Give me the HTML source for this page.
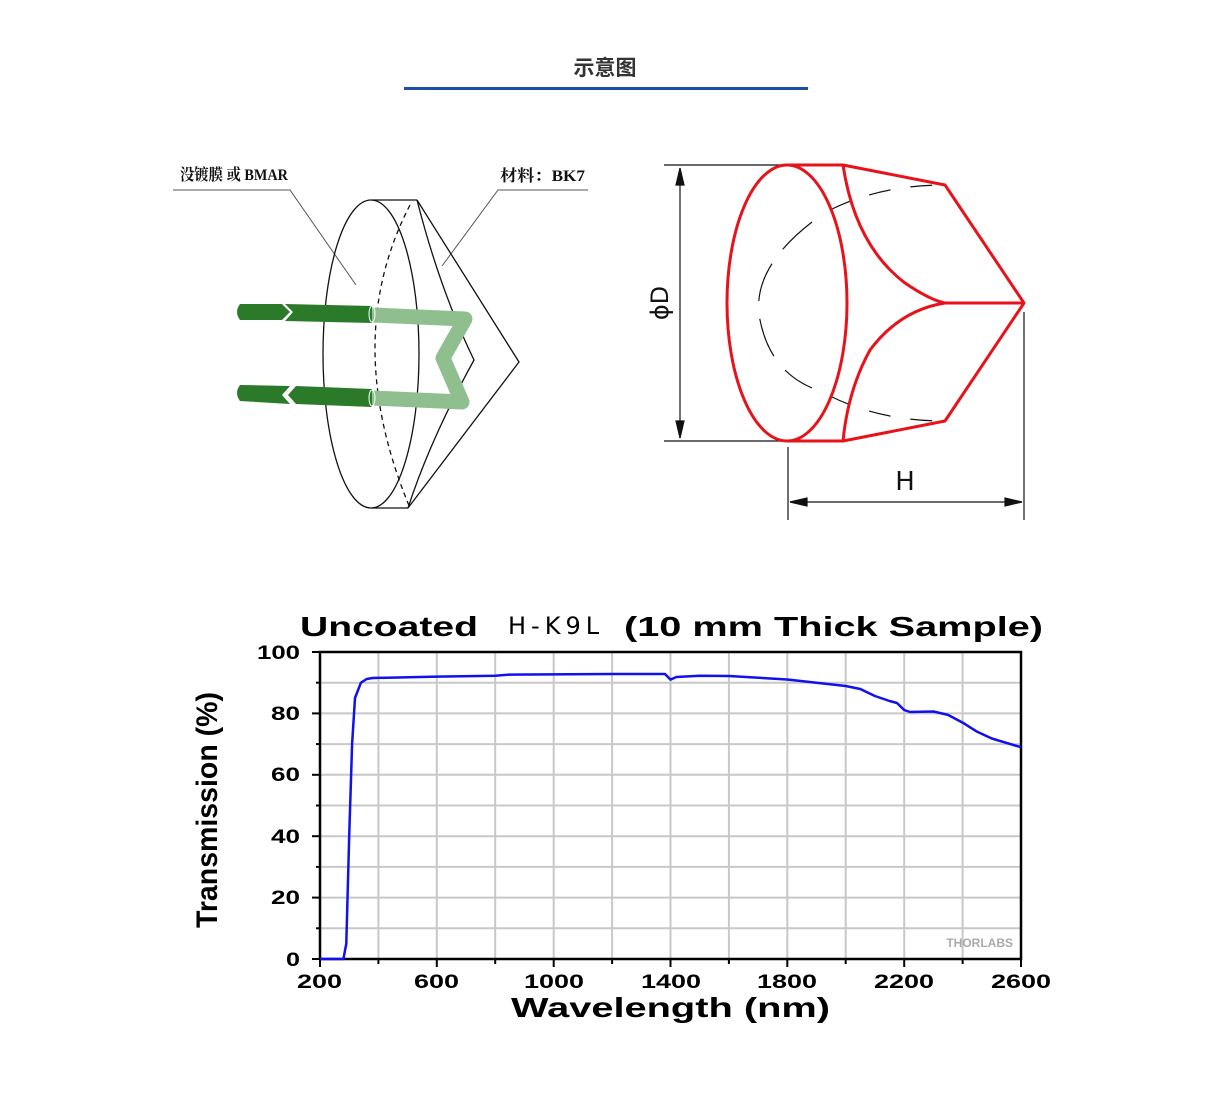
<!DOCTYPE html>
<html><head><meta charset="utf-8"><style>
html,body{margin:0;padding:0;background:#fff;}
body{width:1206px;height:1098px;overflow:hidden;}
</style></head><body>
<svg width="1206" height="1098" viewBox="0 0 1206 1098" xmlns="http://www.w3.org/2000/svg">
<text x="605" y="75" text-anchor="middle" font-family="Liberation Sans, Noto Sans CJK SC, sans-serif" font-size="21" font-weight="bold" fill="#333">示意图</text>
<rect x="404" y="87" width="404" height="3" fill="#1d4fa8"/>

<!-- left diagram -->
<g font-family="Liberation Serif, Noto Serif CJK SC, serif" font-size="16" font-weight="bold" fill="#111">
<text x="180" y="180" textLength="108" lengthAdjust="spacingAndGlyphs">没镀膜 或 BMAR</text>
<text x="500" y="181" textLength="85" lengthAdjust="spacingAndGlyphs">材料：BK7</text>
</g>
<g stroke="#555" stroke-width="1" fill="none">
<polyline points="173,190 290,190 356,285"/>
<polyline points="588,190 498,190 442,266"/>
</g>
<g fill="none" stroke="#111" stroke-width="1.3">
<ellipse cx="371" cy="354" rx="48" ry="154"/>
<line x1="372" y1="200" x2="417" y2="200"/>
<line x1="372" y1="508" x2="408" y2="508"/>
<path d="M417,200 Q440,290 474,360 Q430,440 408,508"/>
<path d="M417,200 L519,362 L408,508"/>
<path d="M410,205 Q340,340 410,508" stroke-dasharray="5,4"/>
</g>
<g stroke-linecap="butt" fill="none">
<polyline points="372,315 465,319 443,358 462,402 372,398" stroke="#8fbe8f" stroke-width="15" stroke-linejoin="round"/>
<path d="M240,304 L282,304 L290,312 L282,320 L240,320 Q234,312 240,304Z" fill="#2a7a2a"/>
<path d="M285,304 L372,306 L372,323 L285,321 L293,312Z" fill="#2a7a2a"/>
<path d="M240,385 L290,386 L282,395 L290,404 L240,401 Q234,393 240,385Z" fill="#2a7a2a"/>
<path d="M296,386 L372,389 L372,407 L296,404 L288,395Z" fill="#2a7a2a"/>
<ellipse cx="372" cy="314" rx="3" ry="8" stroke="#fff" stroke-width="1"/>
<ellipse cx="372" cy="398" rx="3" ry="8" stroke="#fff" stroke-width="1"/>
</g>

<!-- right diagram -->
<g stroke="#111" stroke-width="1.2" fill="none">
<line x1="664" y1="165" x2="790" y2="165"/>
<line x1="664" y1="441" x2="790" y2="441"/>
<line x1="680" y1="168" x2="680" y2="438"/>
<path d="M676,185 L680,168 L684,185Z" fill="#111"/>
<path d="M676,421 L680,438 L684,421Z" fill="#111"/>
<line x1="788" y1="447" x2="788" y2="520"/>
<line x1="1024" y1="312" x2="1024" y2="520"/>
<line x1="790" y1="502" x2="1022" y2="502"/>
<path d="M790,502 L807,498 L807,506Z" fill="#111"/>
<path d="M1022,502 L1005,498 L1005,506Z" fill="#111"/>
<path d="M830,210 Q880,185 945,185" stroke-dasharray="22,20"/>
<path d="M830,396 Q880,421 945,421" stroke-dasharray="22,20"/>
<path d="M812,222 Q750,270 760,320 Q770,370 812,388" stroke-dasharray="40,18"/>
</g>
<text x="668" y="303" font-family="DejaVu Sans, sans-serif" font-size="24" fill="#111" transform="rotate(-90 668 303)" text-anchor="middle">ϕD</text>
<text x="905" y="490" font-family="DejaVu Sans, sans-serif" font-size="26" fill="#111" text-anchor="middle">H</text>
<g stroke="#e8121a" stroke-width="3" fill="none" stroke-linejoin="round">
<ellipse cx="787" cy="303" rx="60" ry="138"/>
<polyline points="787,165 843,165 945,185 1024,303 945,421 843,441 787,441"/>
<path d="M843,165 Q855,245 905,283 Q930,300 945,303 L1024,303"/>
<path d="M945,303 Q900,310 870,350 Q848,390 843,441"/>
</g>

<!-- chart -->
<g font-family="Liberation Sans, sans-serif" font-weight="bold" fill="#000">
<text x="300" y="636" font-size="28" textLength="178" lengthAdjust="spacingAndGlyphs">Uncoated</text>
<text x="624" y="636" font-size="28" textLength="419" lengthAdjust="spacingAndGlyphs">(10 mm Thick Sample)</text>
</g>
<text x="508" y="634" font-family="DejaVu Sans, sans-serif" font-size="24" letter-spacing="5" fill="#000">H-K9L</text>
<g stroke="#c8c8c8" stroke-width="2">
<line x1="378.4" y1="652" x2="378.4" y2="959"/><line x1="436.8" y1="652" x2="436.8" y2="959"/>
<line x1="495.2" y1="652" x2="495.2" y2="959"/><line x1="553.7" y1="652" x2="553.7" y2="959"/>
<line x1="612.1" y1="652" x2="612.1" y2="959"/><line x1="670.5" y1="652" x2="670.5" y2="959"/>
<line x1="728.9" y1="652" x2="728.9" y2="959"/><line x1="787.3" y1="652" x2="787.3" y2="959"/>
<line x1="845.7" y1="652" x2="845.7" y2="959"/><line x1="904.2" y1="652" x2="904.2" y2="959"/>
<line x1="962.6" y1="652" x2="962.6" y2="959"/>
<line x1="320" y1="682.7" x2="1021" y2="682.7"/><line x1="320" y1="713.4" x2="1021" y2="713.4"/>
<line x1="320" y1="744.1" x2="1021" y2="744.1"/><line x1="320" y1="774.8" x2="1021" y2="774.8"/>
<line x1="320" y1="805.5" x2="1021" y2="805.5"/><line x1="320" y1="836.2" x2="1021" y2="836.2"/>
<line x1="320" y1="866.9" x2="1021" y2="866.9"/><line x1="320" y1="897.6" x2="1021" y2="897.6"/>
<line x1="320" y1="928.3" x2="1021" y2="928.3"/>
</g>
<rect x="320" y="652" width="701" height="307" fill="none" stroke="#000" stroke-width="2.5"/>
<g stroke="#000" stroke-width="2">
<line x1="312" y1="652" x2="320" y2="652"/><line x1="312" y1="713.4" x2="320" y2="713.4"/>
<line x1="312" y1="774.8" x2="320" y2="774.8"/><line x1="312" y1="836.2" x2="320" y2="836.2"/>
<line x1="312" y1="897.6" x2="320" y2="897.6"/><line x1="312" y1="959" x2="320" y2="959"/>
<line x1="316" y1="682.7" x2="320" y2="682.7"/><line x1="316" y1="744.1" x2="320" y2="744.1"/>
<line x1="316" y1="805.5" x2="320" y2="805.5"/><line x1="316" y1="866.9" x2="320" y2="866.9"/>
<line x1="316" y1="928.3" x2="320" y2="928.3"/>
<line x1="320" y1="959" x2="320" y2="967"/><line x1="436.8" y1="959" x2="436.8" y2="967"/>
<line x1="553.7" y1="959" x2="553.7" y2="967"/><line x1="670.5" y1="959" x2="670.5" y2="967"/>
<line x1="787.3" y1="959" x2="787.3" y2="967"/><line x1="904.2" y1="959" x2="904.2" y2="967"/>
<line x1="1021" y1="959" x2="1021" y2="967"/>
<line x1="378.4" y1="959" x2="378.4" y2="964"/><line x1="495.2" y1="959" x2="495.2" y2="964"/>
<line x1="612.1" y1="959" x2="612.1" y2="964"/><line x1="728.9" y1="959" x2="728.9" y2="964"/>
<line x1="845.7" y1="959" x2="845.7" y2="964"/><line x1="962.6" y1="959" x2="962.6" y2="964"/>
</g>
<g font-family="Liberation Sans, sans-serif" font-size="19" font-weight="bold" fill="#000">
<text x="257" y="659" textLength="43" lengthAdjust="spacingAndGlyphs">100</text>
<text x="271" y="720" textLength="29" lengthAdjust="spacingAndGlyphs">80</text>
<text x="271" y="781" textLength="29" lengthAdjust="spacingAndGlyphs">60</text>
<text x="271" y="843" textLength="29" lengthAdjust="spacingAndGlyphs">40</text>
<text x="271" y="904" textLength="29" lengthAdjust="spacingAndGlyphs">20</text>
<text x="286" y="966" textLength="14" lengthAdjust="spacingAndGlyphs">0</text>
<text x="297" y="988" textLength="45" lengthAdjust="spacingAndGlyphs">200</text>
<text x="414" y="988" textLength="45" lengthAdjust="spacingAndGlyphs">600</text>
<text x="524" y="988" textLength="60" lengthAdjust="spacingAndGlyphs">1000</text>
<text x="641" y="988" textLength="60" lengthAdjust="spacingAndGlyphs">1400</text>
<text x="757" y="988" textLength="60" lengthAdjust="spacingAndGlyphs">1800</text>
<text x="874" y="988" textLength="60" lengthAdjust="spacingAndGlyphs">2200</text>
<text x="991" y="988" textLength="60" lengthAdjust="spacingAndGlyphs">2600</text>
<text x="511" y="1017" font-size="28" textLength="319" lengthAdjust="spacingAndGlyphs">Wavelength (nm)</text>
</g>
<text x="0" y="0" font-family="Liberation Sans, sans-serif" font-size="30" font-weight="bold" text-anchor="middle" transform="translate(217 810) rotate(-90)" textLength="236" lengthAdjust="spacingAndGlyphs">Transmission (%)</text>
<text x="1013" y="947" font-family="Liberation Sans, sans-serif" font-size="12" font-weight="bold" fill="#aaa" text-anchor="end">THORLABS</text>
<polyline fill="none" stroke="#1010f0" stroke-width="2.5" stroke-linejoin="round" points="320,959 343.4,959 346.3,943.6 349.2,836 352.1,744 355,698 360.9,682.7 366.7,679 372.6,678 436.8,676.6 495.2,675.8 509.9,674.6 612.1,674 665,674 670.5,679.6 676.3,677 699.7,675.8 728.9,676 787.3,679.5 845.7,686 860.3,689 874.9,696 889.6,701 897,703 904.2,710 910,712 933.4,711.5 948,714.9 962.6,722.6 977.2,731.8 991.8,738.5 1021,747.2"/>
</svg>
</body></html>
